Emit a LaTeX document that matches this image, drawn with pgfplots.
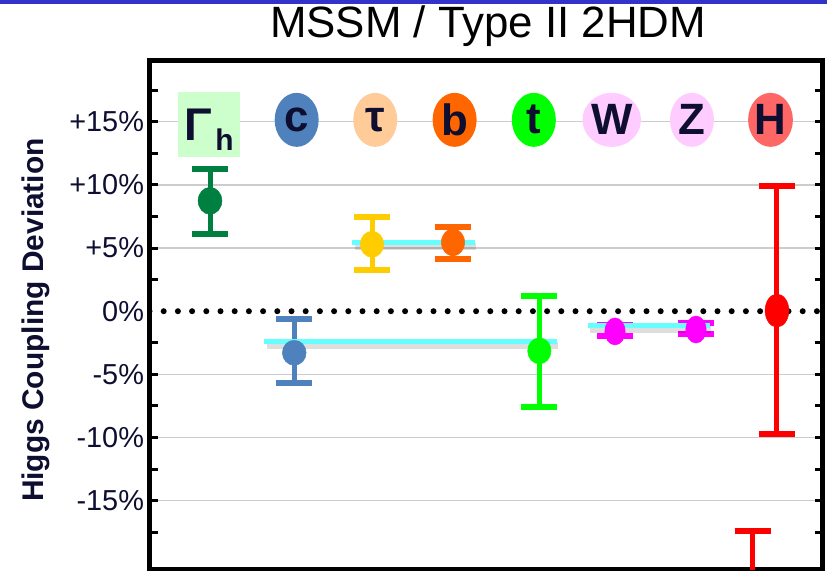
\documentclass[border=0pt]{standalone}
\usepackage{pgfplots}
\pgfplotsset{compat=1.18}
\usepackage{fontspec}
\setmainfont{Liberation Sans}
\usetikzlibrary{shapes.geometric}

\definecolor{navy}{RGB}{14,14,48}
\definecolor{stripe}{RGB}{51,51,204}
\definecolor{gGamma}{RGB}{0,128,64}
\definecolor{cBlue}{RGB}{79,129,189}
\definecolor{tauY}{RGB}{255,204,0}
\definecolor{bOr}{RGB}{255,102,0}
\definecolor{tGr}{RGB}{0,255,0}
\definecolor{wzMag}{RGB}{255,0,255}
\definecolor{hRed}{RGB}{255,0,0}
\definecolor{cyanL}{RGB}{102,255,255}
\definecolor{bgGamma}{RGB}{204,255,204}
\definecolor{bgTau}{RGB}{255,204,153}
\definecolor{bgWZ}{RGB}{255,204,255}
\definecolor{bgH}{RGB}{255,102,102}

\pgfplotsset{
  ebar/.style={
    error bars/.cd, y dir=both, y explicit,
    error bar style={line width=5bp},
    error mark options={rotate=90, mark size=18bp, line width=6bp},
  },
}

\begin{document}
\begin{tikzpicture}
\useasboundingbox (0,0) rectangle (827bp,571bp);
\fill[stripe] (0,567bp) rectangle (827bp,571bp);
\begin{axis}[
  at={(149.5bp,1.5bp)}, anchor=south west,
  scale only axis, width=673bp, height=509bp,
  xmin=0.253, xmax=8.562, ymin=-20.45, ymax=19.85,
  xtick=\empty,
  ytick={-15,-10,-5,5,10,15},
  yticklabels={-15\%,-10\%,-5\%,+5\%,+10\%,+15\%},
  minor ytick={-17.5,-12.5,-7.5,-2.5,2.5,7.5,12.5,17.5},
  extra y ticks={0}, extra y tick labels={0\%},
  extra y tick style={major tick length=0pt, ymajorgrids=false},
  ymajorgrids,
  major grid style={line width=1.2bp, black!20},
  axis line style={line width=5bp, black},
  major tick length=8bp, minor tick length=8bp,
  tick style={line width=3bp, black},
  yticklabel style={font=\fontsize{29}{29}\selectfont, text=navy, xshift=-2bp},
  ylabel={Higgs Coupling Deviation},
  ylabel style={font=\bfseries\fontsize{30}{30}\selectfont, text=navy,
    at={(axis description cs:-0.1694,0.49)}, anchor=center, rotate=0},
  title={MSSM / Type II 2HDM},
  title style={font=\fontsize{44}{44}\selectfont, text=black,
    at={(axis description cs:0.503,1)}, anchor=base, yshift=17bp},
]
% zero reference line (dotted)
\addplot[black, line width=6bp, line cap=round, dash pattern=on 0bp off 14.2bp]
  coordinates {(0.253,0) (8.562,0)};

% data points with error bars
\addplot[gGamma, mark=*, mark size=13.5bp, mark options={xscale=0.88, line width=0.5bp}, ebar]
  coordinates {(1.0,8.74) += (0,2.54) -= (0,2.61)};
\addplot[cBlue, mark=*, mark size=12.5bp, mark options={xscale=0.95, line width=0.5bp}, ebar]
  coordinates {(2.04,-3.29) += (0,2.66) -= (0,2.43)};
\addplot[tauY, mark=*, mark size=13bp, mark options={xscale=0.9, line width=0.5bp}, ebar]
  coordinates {(3.0,5.30) += (0,2.14) -= (0,2.04)};
\addplot[bOr, mark=*, mark size=13.5bp, mark options={xscale=0.86, line width=0.5bp}, ebar]
  coordinates {(4.0,5.45) += (0,1.23) -= (0,1.28)};
\addplot[tGr, mark=*, mark size=13bp, mark options={xscale=0.9, line width=0.5bp}, ebar]
  coordinates {(5.066,-3.14) += (0,4.33) -= (0,4.48)};
\addplot[wzMag, mark=*, mark size=13.5bp, mark options={xscale=0.75, line width=0.5bp}, ebar]
  coordinates {(6.0,-1.60) += (0,0.50) -= (0,0.35)};
\addplot[wzMag, mark=*, mark size=13.5bp, mark options={xscale=0.75, line width=0.5bp}, ebar]
  coordinates {(7.0,-1.45) += (0,0.50) -= (0,0.35)};
\addplot[hRed, mark=*, mark size=16.5bp, mark options={xscale=0.72, line width=0.5bp}, ebar]
  coordinates {(8.0,0.05) += (0,9.90) -= (0,9.80)};
% off-scale point: only its upper error bar is visible
\addplot[hRed, only marks, mark=none, ebar]
  coordinates {(7.70,-24.0) += (0,6.6) -= (0,0)};

% fitted lines with soft shadows
\addplot[black, opacity=0.13, line width=7bp] coordinates {(1.70,-2.72) (5.30,-2.72)};
\addplot[black, opacity=0.13, line width=7bp] coordinates {(2.79,5.15) (4.29,5.15)};
\addplot[black, opacity=0.13, line width=7bp] coordinates {(5.69,-1.48) (7.19,-1.48)};
\addplot[cyanL, line width=5bp] coordinates {(1.667,-2.41) (5.28,-2.41)};
\addplot[cyanL, line width=5bp] coordinates {(2.757,5.46) (4.272,5.46)};
\addplot[cyanL, line width=5bp] coordinates {(5.663,-1.17) (7.173,-1.17)};

% category labels
\node[fill=bgGamma, minimum width=62bp, minimum height=65bp, inner sep=0pt,
  text height=42bp, text depth=10bp, text=navy]
  at (axis cs:0.99,14.78)
  {{\bfseries\fontsize{46}{46}\selectfont Γ}\kern3bp\raisebox{-10bp}{\bfseries\fontsize{30}{30}\selectfont h}};
\tikzset{lab/.style={ellipse, inner sep=0pt, minimum width=44bp, minimum height=54bp,
  text=navy, font=\bfseries\fontsize{44}{44}\selectfont}}
\node[lab, fill=cBlue] at (axis cs:2.07,15.15) {c};
\node[lab, fill=bgTau] at (axis cs:3.04,15.15) {τ};
\node[lab, fill=bOr] at (axis cs:4.02,15.15) {b};
\node[lab, fill=tGr] at (axis cs:4.998,15.15) {t};
\node[lab, fill=bgWZ] at (axis cs:5.96,15.15) {W};
\node[lab, fill=bgWZ] at (axis cs:6.95,15.15) {Z};
\node[lab, fill=bgH] at (axis cs:7.92,15.15) {H};
\end{axis}
\end{tikzpicture}
\end{document}
